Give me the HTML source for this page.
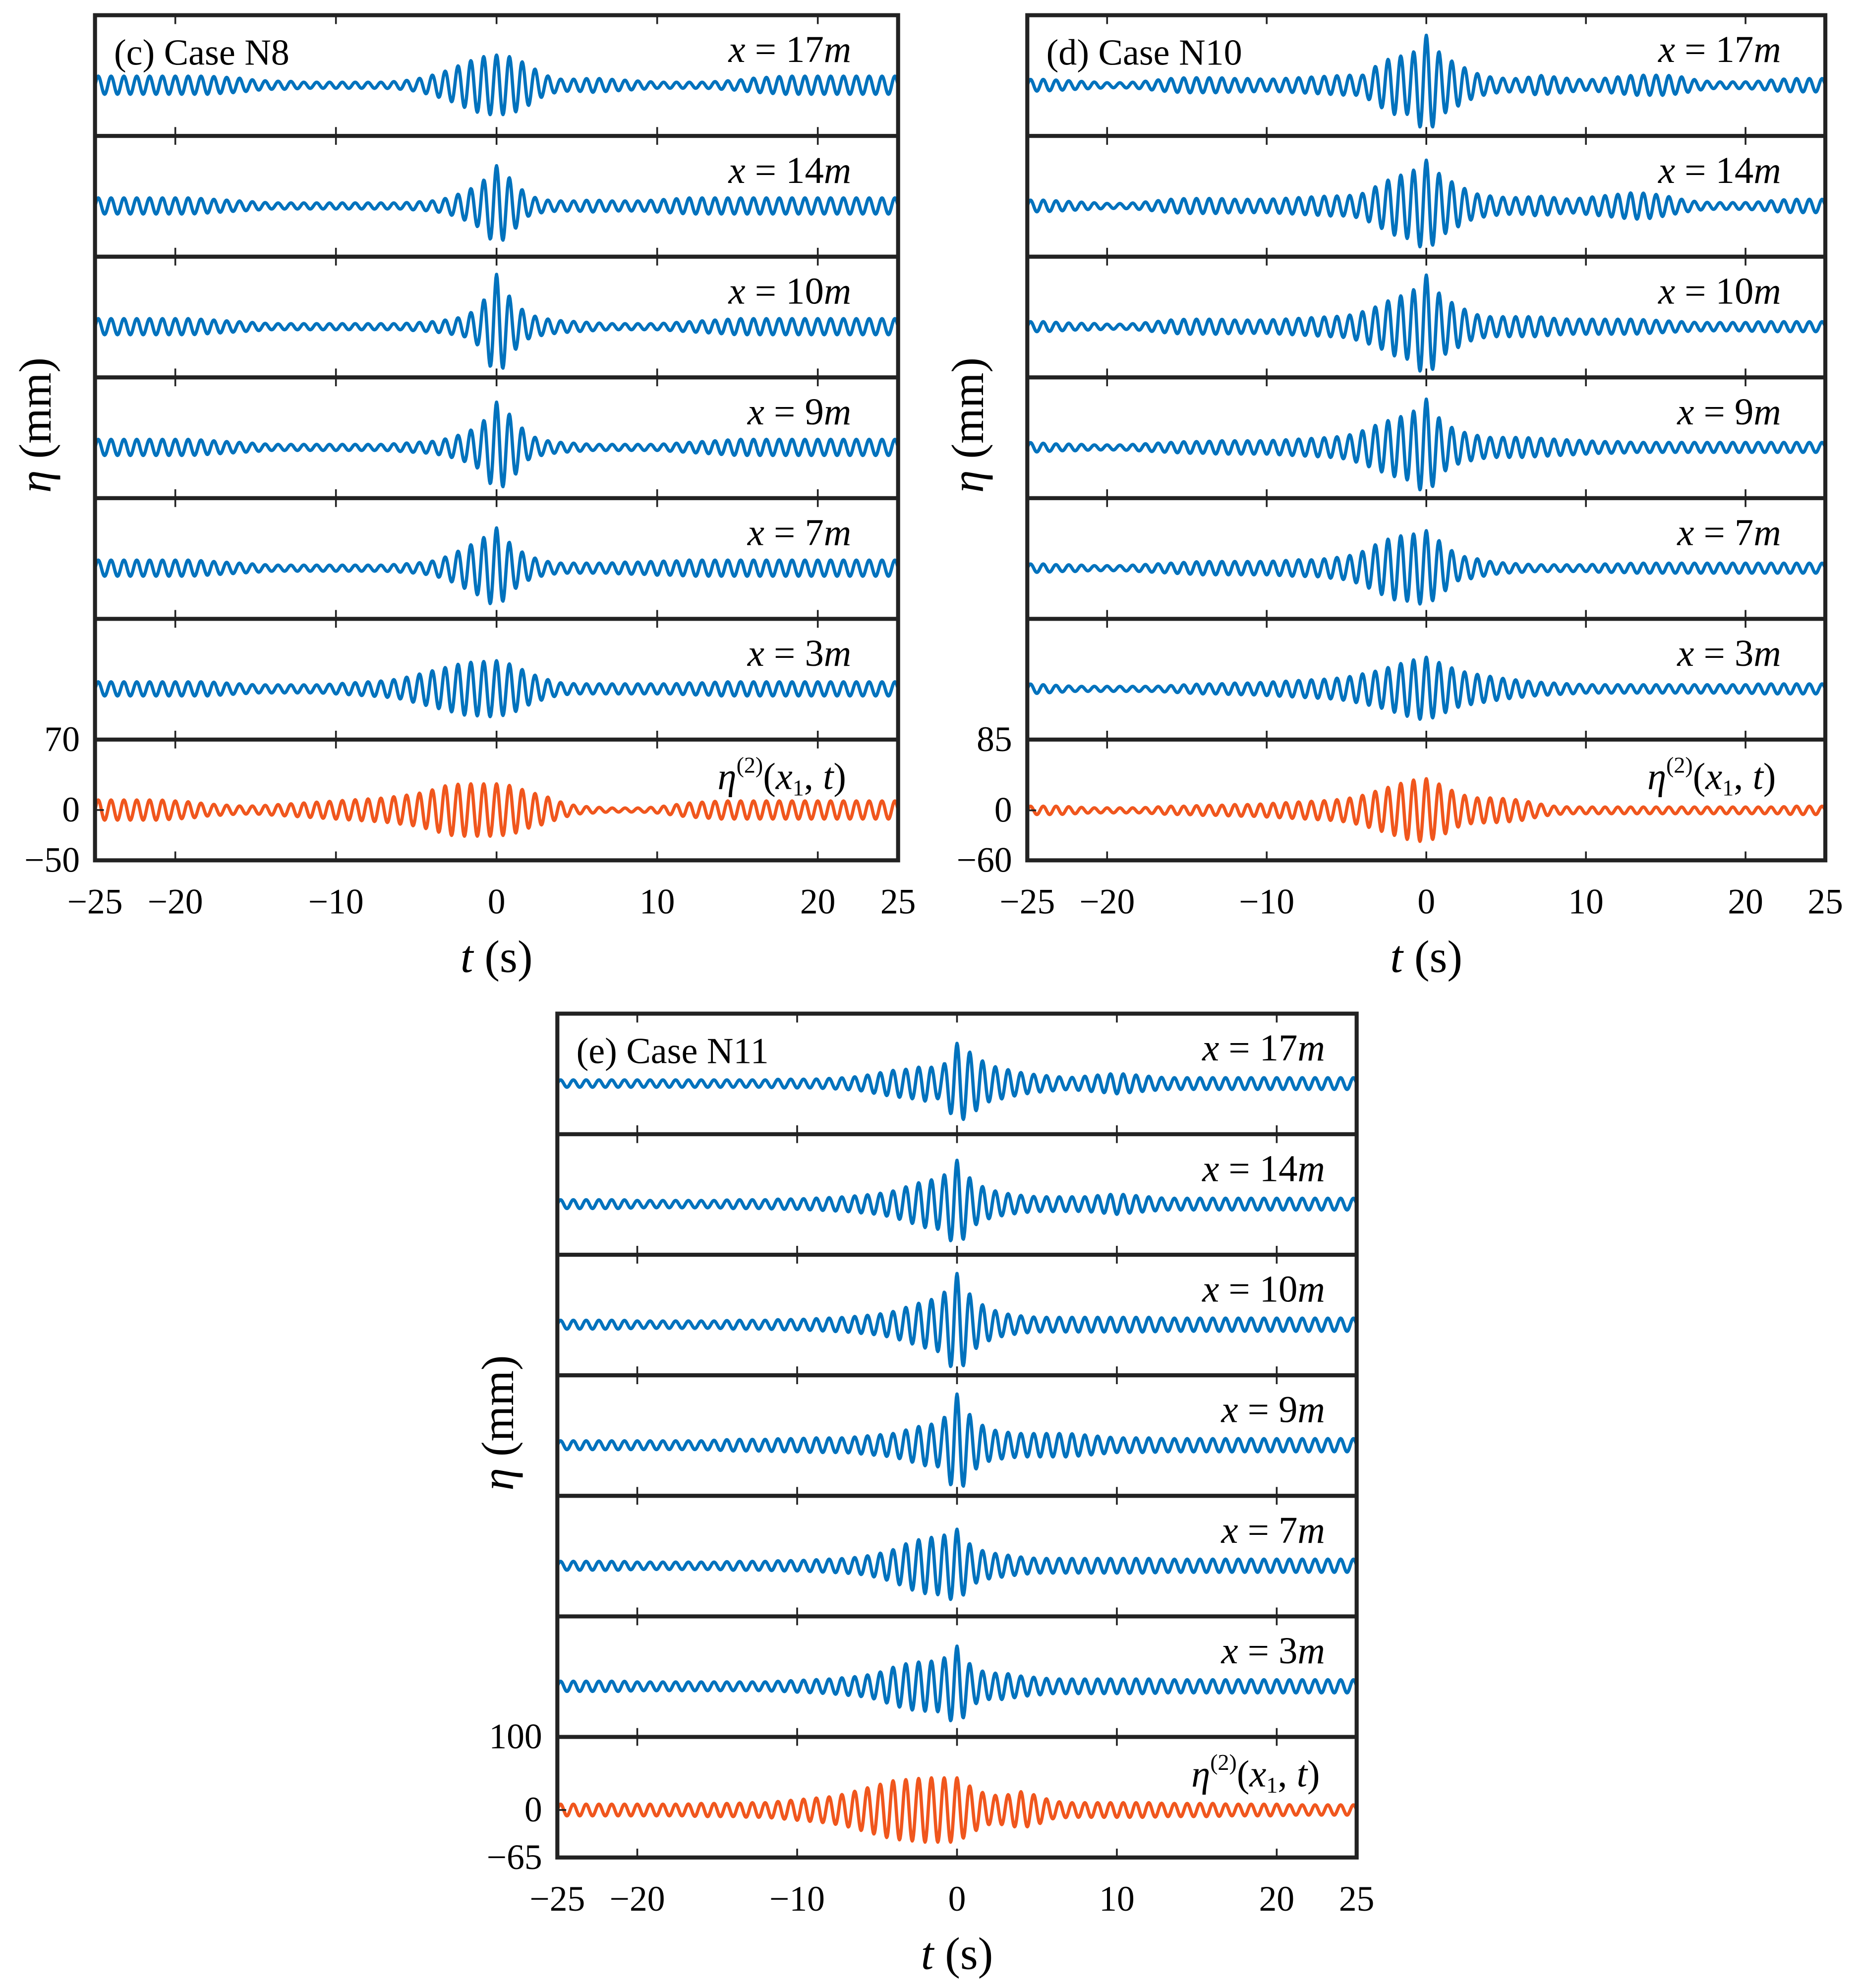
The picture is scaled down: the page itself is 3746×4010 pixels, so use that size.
<!DOCTYPE html>
<html><head><meta charset="utf-8"><style>
html,body{margin:0;padding:0;background:#fff;}
svg{display:block;}
text{font-family:"Liberation Serif",serif;fill:#000;}
</style></head><body>
<svg id="fig" width="3746" height="4010" viewBox="0 0 1466 1569" preserveAspectRatio="none" xmlns="http://www.w3.org/2000/svg"></svg>
<script>
const timeGrid = [-25,-24,-23,-22,-21,-20,-19,-18,-17,-16,-15,-14,-13,-12,-11,-10,-9,-8,-7,-6,-5,-4,-3,-2,-1,0,1,2,3,4,5,6,7,8,9,10,11,12,13,14,15,16,17,18,19,20,21,22,23,24,25];
const xTicks = [-25,-20,-10,0,10,20,25];
const rowLabels = ["17","14","10","9","7","3"];
const envC17 = [9,9,9,9,9,9,9,9,8,7,5,4,4,3,3,3,3,3,3,4,6,10,15,22,28,30,28,20,10,6,6,7,6,5,4,3,3,3,3,4,5,7,8,9,9,9,9,9,9,9,9];
const envC14 = [8,8,8,8,8,8,8,7,6,5,4,3,3,3,3,3,3,3,3,3,4,5,8,14,22,40,25,10,6,5,5,6,5,5,5,6,7,8,8,8,8,8,8,8,8,8,8,8,8,8,8];
const envC10 = [8,8,8,8,8,8,8,7,6,5,4,3,3,3,3,3,3,3,3,3,4,5,7,10,20,52,25,12,8,6,5,4,3,3,3,3,4,5,6,7,8,8,8,8,8,8,8,8,8,8,8];
const envC9  = [8,8,8,8,8,8,8,7,6,5,4,3,3,3,3,3,3,3,3,4,5,6,9,14,22,45,30,12,7,5,4,3,3,3,3,3,4,5,6,7,8,8,8,8,8,8,8,8,8,8,8];
const envC7  = [8,8,8,8,8,8,8,7,6,5,4,3,3,3,3,3,3,3,3,4,5,7,12,20,28,40,22,12,7,5,5,5,5,6,6,7,7,8,8,8,8,8,8,8,8,8,8,8,8,8,8];
const envC3  = [7,7,7,7,7,7,7,7,6,5,4,4,4,4,4,5,6,7,8,10,14,18,22,26,27,28,24,16,10,6,5,5,5,5,5,5,5,6,6,7,7,7,7,7,7,7,7,7,7,7,7];
const envCO  = [10,10,10,10,10,9,8,6,5,4,4,5,6,7,8,9,10,11,12,14,16,20,25,26,26,26,24,18,14,8,4,3,2,2,2,3,5,7,8,9,9,9,9,9,9,9,9,9,9,9,9];
const envD17 = [7,7,6,5,4,3,3,4,6,8,9,9,9,8,8,7,8,9,10,11,12,12,25,35,35,60,35,25,15,10,8,8,12,10,8,6,8,10,12,12,12,10,6,4,4,4,5,7,8,8,8];
const envD14 = [7,7,6,5,4,3,3,4,6,8,9,9,9,8,8,8,9,10,11,12,12,15,25,35,40,55,35,25,15,12,10,10,12,10,8,10,12,14,16,15,12,8,5,4,4,4,5,7,8,8,8];
const envD10 = [6,6,5,4,4,3,3,4,6,8,9,9,9,8,8,8,9,10,11,12,13,18,25,35,40,62,35,25,15,12,12,12,12,10,9,9,9,9,9,8,7,6,5,5,5,5,6,6,6,6,6];
const envD9  = [6,5,4,4,3,3,3,4,5,6,7,7,8,8,8,8,9,10,11,12,14,20,28,35,40,58,30,20,15,12,12,12,11,10,9,8,7,7,6,6,6,6,6,6,6,6,6,6,6,6,6];
const envD7  = [5,5,4,4,3,3,3,4,5,6,7,8,8,8,8,8,9,10,10,12,14,20,30,38,40,45,30,15,12,8,6,5,4,4,4,4,5,5,6,6,6,6,6,6,6,6,6,6,6,6,6];
const envD3  = [6,5,4,3,3,3,3,3,3,4,5,6,6,7,7,8,9,10,11,12,14,18,22,28,34,38,30,22,18,15,12,10,8,7,6,5,5,5,5,5,5,5,5,5,5,5,6,6,6,6,6];
const envDO  = [5,5,5,4,3,3,3,3,4,5,5,6,6,7,7,8,9,10,11,12,14,18,24,30,36,38,30,20,15,15,14,12,8,5,4,4,4,4,4,4,4,4,4,4,4,4,4,4,5,5,5];
const envE17 = [5,5,5,5,5,5,5,5,5,5,5,5,5,5,6,6,6,7,8,10,14,18,20,24,20,55,40,25,20,15,12,10,8,10,12,14,12,10,8,8,8,8,8,8,8,8,8,8,8,8,8];
const envE14 = [6,6,6,6,6,5,5,5,5,5,5,6,6,6,7,7,8,9,10,12,14,18,25,32,35,60,30,20,15,12,10,10,10,10,12,14,12,10,8,8,8,8,8,8,8,8,8,8,8,8,8];
const envE10 = [6,6,6,6,6,5,5,5,5,5,5,6,6,6,7,7,8,9,10,12,14,18,25,32,38,70,35,22,15,12,10,10,10,10,10,10,10,10,9,9,9,9,9,9,9,9,9,9,9,9,9];
const envE9  = [6,6,6,6,6,6,6,6,6,6,7,8,8,8,9,9,10,10,10,12,14,16,22,28,30,70,35,22,18,16,16,16,16,14,12,10,10,10,9,9,9,9,9,9,9,9,9,9,9,9,9];
const envE7  = [6,6,6,6,6,5,5,5,5,5,5,6,6,6,7,7,8,9,10,12,16,22,32,38,40,50,25,18,15,12,10,10,10,10,10,10,10,10,9,9,9,9,9,9,9,9,9,9,9,9,9];
const envE3  = [7,7,7,7,7,6,6,6,6,6,6,6,6,6,7,8,9,10,12,14,18,26,32,34,35,55,25,18,18,14,12,10,10,10,10,10,10,10,9,9,9,9,9,9,9,9,9,9,9,9,9];
const envEO  = [8,8,8,8,8,8,8,8,8,9,9,9,10,10,12,14,16,18,22,28,34,40,42,44,44,44,30,20,20,25,20,12,10,10,10,10,10,10,9,9,9,9,8,8,8,8,7,7,7,7,7];

const panels = [
 {id:"c", title:"(c) Case N8", L:75, R:709, T:12, B:679, yTop:70, yBot:-50, env:[envC17,envC14,envC10,envC9,envC7,envC3,envCO], labX:672},
 {id:"d", title:"(d) Case N10", L:811, R:1441, T:12, B:679, yTop:85, yBot:-60, env:[envD17,envD14,envD10,envD9,envD7,envD3,envDO], labX:1406},
 {id:"e", title:"(e) Case N11", L:440, R:1071, T:800, B:1466, yTop:100, yBot:-65, env:[envE17,envE14,envE10,envE9,envE7,envE3,envEO], labX:1046}
];
const NS="http://www.w3.org/2000/svg";
const svg=document.getElementById('fig');
function mk(tag,attrs,parent){const e=document.createElementNS(NS,tag);for(const k in attrs)e.setAttribute(k,attrs[k]);(parent||svg).appendChild(e);return e;}
function envAt(env,t){const f=t+25;const i=Math.min(49,Math.floor(f));const a=f-i;return env[i]*(1-a)+env[i+1]*a;}

panels.forEach(p=>{
  const g=mk('g',{});
  
  
  const rowH=(p.B-p.T)/7;
  const sx=t=>p.L+(t+25)/50*(p.R-p.L);
  const scale=rowH/(p.yTop-p.yBot);
  for(let r=0;r<7;r++){
    const top=p.T+r*rowH;
    const base = r<6 ? top+rowH*0.58 : top+p.yTop*scale;
    const env=p.env[r];
    let d="";
    for(let t=-25;t<=25.0001;t+=0.04){
      const v=envAt(env,t)*Math.cos(2*Math.PI*t/0.8);
      d+=(d?"L":"M")+sx(t).toFixed(2)+","+(base-v*scale).toFixed(2);
    }
    const path=mk('path',{d:d,fill:'none',stroke:r<6?'#0072BD':'#F0561D','stroke-width':2.6,'stroke-linejoin':'round'},g);
    
    
    xTicks.forEach(tk=>{ if(tk===-25||tk===25) return;
      mk('line',{x1:sx(tk),x2:sx(tk),y1:top,y2:top+7,stroke:'#222','stroke-width':1.4},g);
      mk('line',{x1:sx(tk),x2:sx(tk),y1:top+rowH,y2:top+rowH-7,stroke:'#222','stroke-width':1.4},g);
    });
    if(r>0) mk('line',{x1:p.L,x2:p.R,y1:top,y2:top,stroke:'#222','stroke-width':3.2},g);
    if(r<6){
      const lab=mk('text',{x:p.labX,y:top+37,'font-size':30,'text-anchor':'end'},g);
      
      
      lab.innerHTML='<tspan font-style="italic">x</tspan> = '+rowLabels[r]+'<tspan font-style="italic">m</tspan>';
    } else {
      const lab=mk('text',{x:p.labX-4,y:top+39,'font-size':30,'text-anchor':'end'},g);
      
      
      lab.innerHTML='<tspan font-style="italic">η</tspan><tspan dy="-13" font-size="18">(2)</tspan><tspan dy="13">(</tspan><tspan font-style="italic">x</tspan><tspan dy="5" font-size="18">1</tspan><tspan dy="-5">, </tspan><tspan font-style="italic">t</tspan>)';
      [p.yTop,0,p.yBot].forEach(v=>{
        const yy=base-v*scale;
        mk('line',{x1:p.L,x2:p.L+7,y1:yy,y2:yy,stroke:'#222','stroke-width':1.4},g);
        const yt=mk('text',{x:p.L-12,y:yy+9,'font-size':28,'text-anchor':'end'},g);
        
        
        yt.textContent=v<0?'−'+(-v):String(v);
      });
    }
  }
  const frame=mk('rect',{x:p.L,y:p.T,width:p.R-p.L,height:p.B-p.T,fill:'none',stroke:'#222','stroke-width':3.2},g);
  
  
  const tt=mk('text',{x:p.L+15,y:p.T+39,'font-size':29},g);
  
  
  tt.textContent=p.title;
  xTicks.forEach(tk=>{
    const xt=mk('text',{x:sx(tk),y:p.B+42,'font-size':28,'text-anchor':'middle'},g);
    
    
    xt.textContent=tk<0?'−'+(-tk):String(tk);
  });
  const xl=mk('text',{x:(p.L+p.R)/2,y:p.B+88,'font-size':36,'text-anchor':'middle'},g);
  
  
  xl.innerHTML='<tspan font-style="italic">t</tspan> (s)';
  const cy=(p.T+p.B)/2-10;
  const yl=mk('text',{x:0,y:0,'font-size':36,'text-anchor':'middle',transform:'translate('+(p.L-35)+','+cy+') rotate(-90)'},g);
  
  
  yl.innerHTML='<tspan font-style="italic">η</tspan> (mm)';
});
</script>
</body></html>
